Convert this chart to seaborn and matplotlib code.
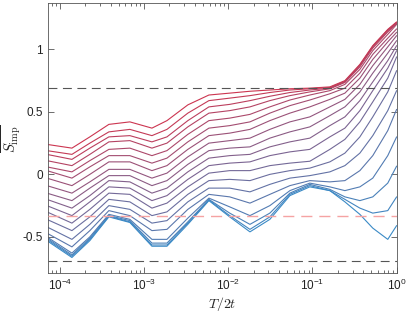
import matplotlib
matplotlib.use("Agg")
import matplotlib.pyplot as plt
import seaborn as sns
import pandas as pd

# temperature grid (T/2t)
T = [7.0e-5, 1.39e-4, 2.27e-4, 3.82e-4, 6.78e-4, 1.24e-3, 1.87e-3, 3.31e-3,
     5.89e-3, 1.04e-2, 1.81e-2, 3.12e-2, 5.40e-2, 9.31e-2, 0.161, 0.243,
     0.366, 0.521, 0.785, 1.0]

# impurity entropy curves, top (red) to bottom (blue)
s00 = [0.24, 0.21, 0.30, 0.40, 0.42, 0.37, 0.43, 0.556, 0.635, 0.65, 0.665, 0.675, 0.685, 0.69, 0.70, 0.75, 0.88, 1.03, 1.16, 1.22]
s01 = [0.19, 0.16, 0.25, 0.34, 0.36, 0.31, 0.36, 0.49, 0.59, 0.61, 0.63, 0.655, 0.675, 0.685, 0.695, 0.745, 0.875, 1.025, 1.155, 1.215]
s02 = [0.16, 0.12, 0.21, 0.30, 0.31, 0.26, 0.30, 0.43, 0.54, 0.56, 0.59, 0.625, 0.655, 0.675, 0.69, 0.74, 0.87, 1.02, 1.15, 1.21]
s03 = [0.11, 0.07, 0.16, 0.26, 0.27, 0.21, 0.25, 0.38, 0.49, 0.51, 0.54, 0.59, 0.63, 0.66, 0.685, 0.735, 0.86, 1.01, 1.14, 1.205]
s04 = [0.06, 0.02, 0.11, 0.20, 0.21, 0.15, 0.19, 0.32, 0.43, 0.45, 0.48, 0.54, 0.595, 0.635, 0.67, 0.72, 0.84, 0.99, 1.12, 1.20]
s05 = [0.03, -0.03, 0.06, 0.15, 0.15, 0.09, 0.13, 0.26, 0.37, 0.39, 0.42, 0.49, 0.55, 0.595, 0.645, 0.69, 0.81, 0.96, 1.09, 1.164]
s06 = [-0.03, -0.09, 0.0, 0.10, 0.10, 0.03, 0.07, 0.20, 0.31, 0.33, 0.36, 0.43, 0.49, 0.54, 0.60, 0.65, 0.77, 0.92, 1.06, 1.137]
s07 = [-0.09, -0.15, -0.06, 0.04, 0.04, -0.03, 0.01, 0.14, 0.25, 0.27, 0.29, 0.36, 0.42, 0.46, 0.54, 0.60, 0.72, 0.87, 1.02, 1.11]
s08 = [-0.15, -0.21, -0.11, -0.01, -0.01, -0.09, -0.05, 0.08, 0.19, 0.21, 0.22, 0.29, 0.34, 0.38, 0.47, 0.54, 0.66, 0.81, 0.97, 1.07]
s09 = [-0.20, -0.27, -0.17, -0.05, -0.06, -0.15, -0.11, 0.02, 0.13, 0.15, 0.16, 0.22, 0.26, 0.29, 0.39, 0.46, 0.59, 0.74, 0.91, 1.03]
s10 = [-0.25, -0.33, -0.22, -0.10, -0.11, -0.21, -0.17, -0.04, 0.07, 0.09, 0.10, 0.15, 0.18, 0.20, 0.30, 0.37, 0.51, 0.67, 0.85, 0.99]
s11 = [-0.30, -0.39, -0.28, -0.15, -0.16, -0.27, -0.23, -0.10, 0.01, 0.03, 0.03, 0.07, 0.09, 0.105, 0.20, 0.28, 0.42, 0.58, 0.77, 0.94]
s12 = [-0.36, -0.45, -0.34, -0.20, -0.22, -0.33, -0.30, -0.16, -0.05, -0.04, -0.05, 0.0, 0.03, 0.05, 0.10, 0.17, 0.30, 0.46, 0.66, 0.83]
s13 = [-0.42, -0.52, -0.40, -0.25, -0.28, -0.39, -0.37, -0.22, -0.11, -0.11, -0.14, -0.08, -0.03, -0.01, 0.02, 0.07, 0.17, 0.31, 0.51, 0.67]
s14 = [-0.47, -0.58, -0.45, -0.29, -0.33, -0.45, -0.44, -0.28, -0.16, -0.18, -0.23, -0.16, -0.09, -0.05, -0.06, -0.05, 0.03, 0.15, 0.35, 0.52]
s15 = [-0.50, -0.63, -0.50, -0.32, -0.36, -0.52, -0.52, -0.35, -0.19, -0.26, -0.33, -0.25, -0.13, -0.07, -0.10, -0.13, -0.10, -0.03, 0.15, 0.30]
s16 = [-0.51, -0.645, -0.51, -0.33, -0.37, -0.55, -0.55, -0.38, -0.20, -0.31, -0.40, -0.31, -0.15, -0.08, -0.12, -0.18, -0.21, -0.18, -0.07, 0.066]
s17 = [-0.52, -0.655, -0.52, -0.335, -0.38, -0.565, -0.565, -0.39, -0.205, -0.33, -0.44, -0.34, -0.16, -0.09, -0.13, -0.20, -0.27, -0.31, -0.29, -0.18]
s18 = [-0.53, -0.665, -0.53, -0.34, -0.385, -0.575, -0.575, -0.40, -0.21, -0.34, -0.46, -0.36, -0.17, -0.10, -0.13, -0.22, -0.32, -0.43, -0.52, -0.41]

curves = [s00, s01, s02, s03, s04, s05, s06, s07, s08, s09,
          s10, s11, s12, s13, s14, s15, s16, s17, s18]

ln2 = 0.693
pink_level = -0.33

rows = []
for i, vals in enumerate(curves):
    for t, v in zip(T, vals):
        rows.append({"T": t, "S": v, "curve": i})
df = pd.DataFrame(rows)

sns.set_style("ticks")
plt.rcParams["font.family"] = ["Liberation Sans", "DejaVu Sans"]
plt.rcParams["mathtext.fontset"] = "cm"
plt.rcParams["axes.unicode_minus"] = False

pal = sns.blend_palette(["#cc3550", "#3a8ac6"], n_colors=len(curves))

fig = plt.figure(figsize=(4.07, 3.15), dpi=100)
ax = fig.add_axes([0.117, 0.133, 0.8575, 0.857])

sns.lineplot(data=df, x="T", y="S", hue="curve", palette=pal, legend=False,
             linewidth=0.8, errorbar=None, ax=ax)

ax.axhline(ln2, color="#555555", lw=0.8, ls=(0, (8, 5)), zorder=3)
ax.axhline(-ln2, color="#555555", lw=0.8, ls=(0, (8, 5)), zorder=3)
ax.axhline(pink_level, color="#f5a3a3", lw=1.0, ls=(0, (8, 5)), zorder=3)

ax.set_xscale("log")
ax.set_xlim(7.15e-5, 1)
ax.set_ylim(-0.79, 1.37)
ax.set_yticks([-0.5, 0, 0.5, 1])
ax.set_yticklabels(["-0.5", "0", "0.5", "1"])

for sp in ax.spines.values():
    sp.set_color("#555555")
    sp.set_linewidth(0.6)
ax.tick_params(which="both", direction="in", top=True, right=True,
               color="#555555", labelcolor="#222222", labelsize=8.5, width=0.6)
ax.tick_params(which="major", length=4)
ax.tick_params(which="minor", length=2)

ax.set_xlabel(r"$T/2t$", fontsize=10, labelpad=1)
ax.set_ylabel(r"$\overline{S_{\rm imp}}$", fontsize=10.5)
ax.yaxis.set_label_coords(-0.07, 0.5)

fig.savefig("out.png", dpi=100)
